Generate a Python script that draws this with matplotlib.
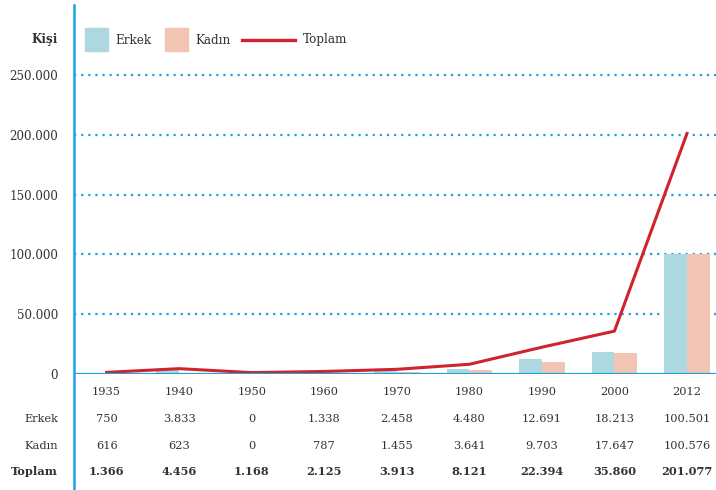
import matplotlib

matplotlib.use("Agg")
import matplotlib.pyplot as plt
from matplotlib.lines import Line2D
from matplotlib.patches import Rectangle
from matplotlib.ticker import FuncFormatter

years = ["1935", "1940", "1950", "1960", "1970", "1980", "1990", "2000", "2012"]
erkek = [750, 3833, 0, 1338, 2458, 4480, 12691, 18213, 100501]
kadin = [616, 623, 0, 787, 1455, 3641, 9703, 17647, 100576]
toplam = [1366, 4456, 1168, 2125, 3913, 8121, 22394, 35860, 201077]

BLUE = "#1ba3de"
MALE = "#aed8e0"
FEMALE = "#f2c4b4"
RED = "#d0232b"
TXT = "#333333"

plt.rcParams["font.family"] = ["DejaVu Serif"]
FS = 8.6
FS_TAB = 8.2


def fmt(v):
    return f"{v:,.0f}".replace(",", ".")


W, H = 716, 490
fig = plt.figure(figsize=(W / 100, H / 100), dpi=100)
ax = fig.add_axes([74 / W, (H - 374) / H, 1 - 74 / W, (374 - 5) / H])

x = list(range(len(years)))
bw = 0.315
ax.bar([i - bw / 2 for i in x], erkek, width=bw, color=MALE, zorder=2)
ax.bar([i + bw / 2 for i in x], kadin, width=bw, color=FEMALE, zorder=2)
ax.plot(x, toplam, color=RED, lw=2.2, zorder=4)

ax.set_xlim(-0.45, 8.4)
ax.set_ylim(0, 308500)
ax.set_yticks([0, 50000, 100000, 150000, 200000, 250000])
ax.yaxis.set_major_formatter(FuncFormatter(lambda v, p: fmt(v)))
ax.tick_params(axis="y", length=0, pad=11.5, labelsize=FS, labelcolor=TXT)
ax.set_xticks([])

for v in [50000, 100000, 150000, 200000, 250000]:
    ax.axhline(v, color=BLUE, lw=1.6, ls=(0, (1, 2.2)), zorder=1)
ax.axhline(0, color=BLUE, lw=1.6, zorder=5)

for s in ("top", "right", "bottom", "left"):
    ax.spines[s].set_visible(False)
ax.plot([0, 0], [-0.315, 1], transform=ax.transAxes, color=BLUE, lw=1.8,
        clip_on=False, zorder=6)

# legend (drawn by hand, in pixel positions of the figure)
def px(xp, yp):
    return xp / W, 1 - yp / H

ly = 40
fig.add_artist(Rectangle(px(85, 51), 23 / W, 23 / H, color=MALE,
                         transform=fig.transFigure))
fig.text(*px(115, ly), "Erkek", ha="left", va="center", fontsize=FS, color=TXT)
fig.add_artist(Rectangle(px(165, 51), 23 / W, 23 / H, color=FEMALE,
                         transform=fig.transFigure))
fig.text(*px(195, ly), "Kadın", ha="left", va="center", fontsize=FS, color=TXT)
fig.add_artist(Line2D([242 / W, 295 / W], [1 - ly / H, 1 - ly / H], color=RED,
                      lw=2.4, transform=fig.transFigure))
fig.text(*px(303, ly), "Toplam", ha="left", va="center", fontsize=FS, color=TXT)
fig.text(*px(58, ly), "Kişi", ha="right", va="center", fontsize=FS,
         fontweight="bold", color=TXT)

# table below
rows = [("", years, "normal"), ("Erkek", [fmt(v) for v in erkek], "normal"),
        ("Kadın", [fmt(v) for v in kadin], "normal"),
        ("Toplam", [fmt(v) for v in toplam], "bold")]
ys = [392, 419, 446, 471]
trans = matplotlib.transforms.blended_transform_factory(ax.transData, fig.transFigure)
for (label, vals, wt), yp in zip(rows, ys):
    yf = 1 - yp / H
    if label:
        fig.text(58 / W, yf, label, ha="right", va="center", fontsize=FS_TAB,
                 fontweight=wt, color=TXT)
    for i, s in enumerate(vals):
        ax.text(i, yf, s, transform=trans, ha="center", va="center",
                fontsize=FS_TAB, fontweight=wt, color=TXT)

fig.savefig("out.png", dpi=100)
